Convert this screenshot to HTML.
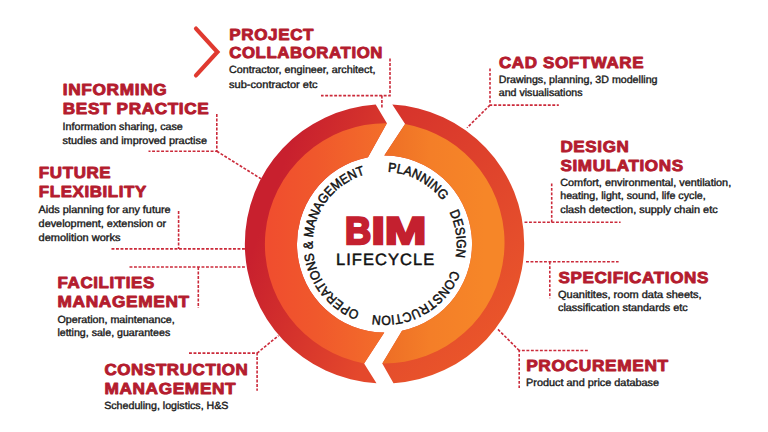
<!DOCTYPE html>
<html lang="en">
<head>
<meta charset="utf-8">
<title>BIM Lifecycle</title>
<style>
html,body{margin:0;padding:0;background:#fff;}
body{width:768px;height:432px;overflow:hidden;}
svg{display:block;}
text{font-family:"Liberation Sans",Arial,Helvetica,sans-serif;text-rendering:geometricPrecision;}
.h{font-weight:bold;font-size:16px;letter-spacing:0.6px;fill:#b41c2e;stroke:#b41c2e;stroke-width:0.9;stroke-linejoin:round;}
.s{font-size:10.45px;fill:#1a1a1a;stroke:#1a1a1a;stroke-width:0.38;}
.c{font-size:13.2px;fill:#111;stroke:#111;stroke-width:0.5;}
.d{fill:none;stroke:#cb2a3a;stroke-width:1.6;stroke-dasharray:2.9 1.6;}
</style>
</head>
<body>
<svg width="768" height="432" viewBox="0 0 768 432">
<defs>
<linearGradient id="lo" gradientUnits="userSpaceOnUse" x1="255" y1="243" x2="389" y2="291.5">
<stop offset="0" stop-color="#c8202e"/><stop offset="0.4" stop-color="#d3302c"/><stop offset="1" stop-color="#e4482c"/>
</linearGradient>
<linearGradient id="li" gradientUnits="userSpaceOnUse" x1="270" y1="0" x2="385" y2="0">
<stop offset="0" stop-color="#f04e2e"/><stop offset="0.4" stop-color="#f0582c"/><stop offset="1" stop-color="#f36e2a"/>
</linearGradient>
<linearGradient id="ro" gradientUnits="userSpaceOnUse" x1="255" y1="255" x2="410" y2="410">
<stop offset="0" stop-color="#d7342c"/><stop offset="0.8" stop-color="#e54e2c"/><stop offset="1" stop-color="#e9542a"/>
</linearGradient>
<linearGradient id="ri" gradientUnits="userSpaceOnUse" x1="385" y1="0" x2="485" y2="0">
<stop offset="0" stop-color="#ee6e26"/><stop offset="0.45" stop-color="#f47e28"/><stop offset="1" stop-color="#f68628"/>
</linearGradient>

<path id="tp" d="M384.7 171.9 A72.0 72.0 0 1 1 384.7 315.9 A72.0 72.0 0 1 1 384.7 171.9 A72.0 72.0 0 1 1 384.7 315.9"/>
</defs>
<rect width="768" height="432" fill="#fff"/>
<path d="M376.5 383.3 A139.60 139.60 0 0 1 375.7 104.6 L386.9 123.2 L368.0 157.2 A87.60 88.45 0 0 0 384.3 332.5 L364.1 363.4 Z" fill="url(#lo)"/>
<path d="M364.1 363.4 A121.10 121.10 0 0 1 386.9 123.2 L368.0 157.2 A87.60 88.45 0 0 0 384.3 332.5 Z" fill="url(#li)"/>
<path d="M392.3 104.5 A139.60 139.60 0 0 1 393.5 383.2 L382.3 363.5 L402.0 330.7 A87.60 88.45 0 0 0 384.3 155.6 L405.1 124.0 Z" fill="url(#ro)"/>
<path d="M405.1 124.0 A120.70 120.70 0 0 1 382.3 363.5 L402.0 330.7 A87.60 88.45 0 0 0 384.3 155.6 Z" fill="url(#ri)"/>
<path class="d" d="M390.0 58.5 L390.0 95.6 L321.0 95.6"/>
<path class="d" d="M381.9 95.6 L381.9 107.5"/>
<path class="d" d="M216.8 114.0 L216.8 151.2 L148.5 151.2"/>
<path class="d" d="M216.8 151.2 L261.0 178.8"/>
<path class="d" d="M178.6 211.0 L178.6 248.9"/>
<path class="d" d="M111.5 248.9 L245.0 248.9"/>
<path class="d" d="M129.5 267.0 L246.5 267.0"/>
<path class="d" d="M198.3 267.0 L198.3 308.0"/>
<path class="d" d="M189.0 353.1 L257.1 353.1 L257.1 390.7"/>
<path class="d" d="M257.1 353.1 L278.5 335.6"/>
<path class="d" d="M490.0 68.4 L490.0 105.1 L558.8 105.1"/>
<path class="d" d="M490.0 105.1 L467.0 127.8"/>
<path class="d" d="M551.7 183.4 L551.7 222.2"/>
<path class="d" d="M524.5 222.2 L620.6 222.2"/>
<path class="d" d="M526.0 261.7 L618.6 261.7"/>
<path class="d" d="M549.8 261.7 L549.8 298.3"/>
<path class="d" d="M587.8 350.5 L519.2 350.5 L519.2 388.0"/>
<path class="d" d="M519.2 350.5 L497.2 328.6"/>
<path d="M196 28.6 L217.4 52 L196 75.4" fill="none" stroke="#e03a30" stroke-width="4.2" stroke-linecap="round" stroke-linejoin="miter"/>
<text class="h" x="229.2" y="39.6" textLength="85.0" lengthAdjust="spacingAndGlyphs">PROJECT</text>
<text class="h" x="229.2" y="57.9" textLength="153.9" lengthAdjust="spacingAndGlyphs">COLLABORATION</text>
<text class="h" x="62.8" y="95.4" textLength="104.5" lengthAdjust="spacingAndGlyphs">INFORMING</text>
<text class="h" x="62.8" y="113.8" textLength="146.6" lengthAdjust="spacingAndGlyphs">BEST PRACTICE</text>
<text class="h" x="38.8" y="178.3" textLength="72.5" lengthAdjust="spacingAndGlyphs">FUTURE</text>
<text class="h" x="38.8" y="197.0" textLength="108.1" lengthAdjust="spacingAndGlyphs">FLEXIBILITY</text>
<text class="h" x="57.6" y="288.4" textLength="97.3" lengthAdjust="spacingAndGlyphs">FACILITIES</text>
<text class="h" x="57.6" y="307.0" textLength="132.1" lengthAdjust="spacingAndGlyphs">MANAGEMENT</text>
<text class="h" x="104.4" y="374.5" textLength="144.1" lengthAdjust="spacingAndGlyphs">CONSTRUCTION</text>
<text class="h" x="104.4" y="393.7" textLength="131.9" lengthAdjust="spacingAndGlyphs">MANAGEMENT</text>
<text class="h" x="499.0" y="68.2" textLength="145.1" lengthAdjust="spacingAndGlyphs">CAD SOFTWARE</text>
<text class="h" x="560.4" y="151.9" textLength="69.1" lengthAdjust="spacingAndGlyphs">DESIGN</text>
<text class="h" x="560.4" y="170.6" textLength="123.4" lengthAdjust="spacingAndGlyphs">SIMULATIONS</text>
<text class="h" x="558.4" y="283.0" textLength="150.6" lengthAdjust="spacingAndGlyphs">SPECIFICATIONS</text>
<text class="h" x="526.2" y="370.8" textLength="142.6" lengthAdjust="spacingAndGlyphs">PROCUREMENT</text>
<text class="s" x="229.0" y="73.0" textLength="146.4" lengthAdjust="spacingAndGlyphs">Contractor, engineer, architect,</text>
<text class="s" x="229.0" y="87.5" textLength="88.6" lengthAdjust="spacingAndGlyphs">sub-contractor etc</text>
<text class="s" x="62.6" y="129.6" textLength="120.2" lengthAdjust="spacingAndGlyphs">Information sharing, case</text>
<text class="s" x="62.6" y="143.8" textLength="144.4" lengthAdjust="spacingAndGlyphs">studies and improved practise</text>
<text class="s" x="38.6" y="212.5" textLength="132.0" lengthAdjust="spacingAndGlyphs">Aids planning for any future</text>
<text class="s" x="38.6" y="226.6" textLength="127.5" lengthAdjust="spacingAndGlyphs">development, extension or</text>
<text class="s" x="38.6" y="240.5" textLength="81.8" lengthAdjust="spacingAndGlyphs">demolition works</text>
<text class="s" x="57.4" y="322.7" textLength="117.4" lengthAdjust="spacingAndGlyphs">Operation, maintenance,</text>
<text class="s" x="57.4" y="336.3" textLength="112.8" lengthAdjust="spacingAndGlyphs">letting, sale, guarantees</text>
<text class="s" x="104.2" y="408.6" textLength="124.3" lengthAdjust="spacingAndGlyphs">Scheduling, logistics, H&amp;S</text>
<text class="s" x="498.8" y="82.6" textLength="158.7" lengthAdjust="spacingAndGlyphs">Drawings, planning, 3D modelling</text>
<text class="s" x="498.8" y="96.3" textLength="83.7" lengthAdjust="spacingAndGlyphs">and visualisations</text>
<text class="s" x="560.2" y="185.7" textLength="171.0" lengthAdjust="spacingAndGlyphs">Comfort, environmental, ventilation,</text>
<text class="s" x="560.2" y="199.3" textLength="145.5" lengthAdjust="spacingAndGlyphs">heating, light, sound, life cycle,</text>
<text class="s" x="560.2" y="212.9" textLength="157.5" lengthAdjust="spacingAndGlyphs">clash detection, supply chain etc</text>
<text class="s" x="558.0" y="297.5" textLength="143.6" lengthAdjust="spacingAndGlyphs">Quanitites, room data sheets,</text>
<text class="s" x="558.0" y="310.9" textLength="129.7" lengthAdjust="spacingAndGlyphs">classification standards etc</text>
<text class="s" x="526.0" y="385.7" textLength="133.1" lengthAdjust="spacingAndGlyphs">Product and price database</text>
<g style="font-weight:bold;font-size:38.5px;fill:#c4202f;stroke:#c4202f;stroke-width:2.4;">
<text x="345.0" y="243.6" textLength="26.2" lengthAdjust="spacingAndGlyphs">B</text>
<text x="371.6" y="243.6" textLength="13.4" lengthAdjust="spacingAndGlyphs">I</text>
<text x="384.8" y="243.6" textLength="41.6" lengthAdjust="spacingAndGlyphs">M</text>
</g>
<text x="336" y="264.6" textLength="98.2" lengthAdjust="spacing" style="font-size:16.5px;fill:#111;stroke:#111;stroke-width:0.5;">LIFECYCLE</text>
<text class="c" textLength="63.6" lengthAdjust="spacingAndGlyphs"><textPath href="#tp" startOffset="3.1" textLength="63.6" lengthAdjust="spacingAndGlyphs">PLANNING</textPath></text>
<text class="c" textLength="46.5" lengthAdjust="spacingAndGlyphs"><textPath href="#tp" startOffset="80.0" textLength="46.5" lengthAdjust="spacingAndGlyphs">DESIGN</textPath></text>
<text class="c" textLength="98.5" lengthAdjust="spacingAndGlyphs"><textPath href="#tp" startOffset="139.7" textLength="98.5" lengthAdjust="spacingAndGlyphs">CONSTRUCTION</textPath></text>
<text class="c" textLength="180.7" lengthAdjust="spacingAndGlyphs"><textPath href="#tp" startOffset="251.3" textLength="180.7" lengthAdjust="spacingAndGlyphs">OPERATIONS &amp; MANAGEMENT</textPath></text>
</svg>
</body>
</html>
